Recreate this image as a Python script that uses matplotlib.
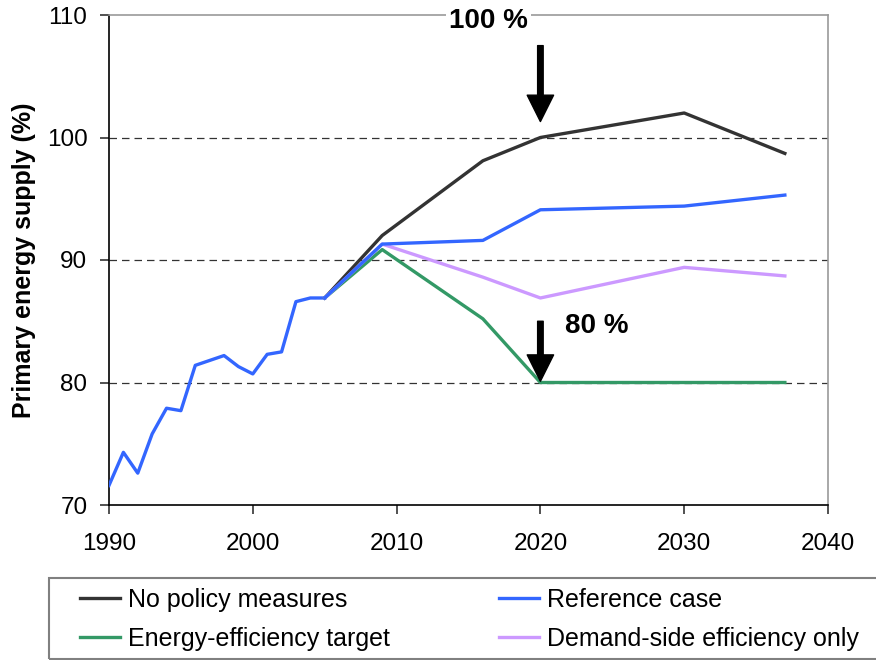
import matplotlib.pyplot as plt
from matplotlib.patches import Rectangle

plt.rcParams['font.family'] = ['Liberation Sans', 'DejaVu Sans']

# historical data (all scenarios start from it)
hist_years = [1990, 1991, 1992, 1993, 1994, 1995, 1996, 1997, 1998, 1999,
              2000, 2001, 2002, 2003, 2004, 2005]
hist_values = [71.6, 74.3, 72.6, 75.8, 77.9, 77.7, 81.4, 81.8, 82.2, 81.3,
               80.7, 82.3, 82.5, 86.6, 86.9, 86.9]

# scenario years
scen_years = [2005, 2009, 2016, 2020, 2030, 2037]
no_policy = [86.9, 92.0, 98.1, 100.0, 102.0, 98.7]
reference = [86.9, 91.3, 91.6, 94.1, 94.4, 95.3]
ee_target = [86.9, 90.85, 85.2, 80.0, 80.0, 80.0]
demand_side = [86.9, 91.3, 88.6, 86.9, 89.4, 88.7]

labels = ['No policy measures', 'Reference case',
          'Energy-efficiency target', 'Demand-side efficiency only']
colors = ['#333333', '#3366ff', '#339966', '#cc99ff']

fig = plt.figure(figsize=(8.76, 6.6), dpi=100)
ax = fig.add_axes([109 / 876, 1 - 505 / 660, 719 / 876, 490 / 660])

lw = 2.4
ax.plot(hist_years, hist_values, color=colors[1], lw=lw, zorder=3)
h_np, = ax.plot(scen_years, no_policy, color=colors[0], lw=lw, zorder=3)
h_ee, = ax.plot(scen_years, ee_target, color=colors[2], lw=lw, zorder=3)
h_ds, = ax.plot(scen_years, demand_side, color=colors[3], lw=lw, zorder=4)
h_ref, = ax.plot(scen_years, reference, color=colors[1], lw=lw, zorder=5)

ax.set_xlim(1990, 2040)
ax.set_ylim(70, 110)
ax.set_xticks([1990, 2000, 2010, 2020, 2030, 2040])
ax.set_yticks([70, 80, 90, 100, 110])

# dashed gridlines
for v in [80, 90, 100]:
    ax.axhline(v, color='#333333', lw=0.9, ls=(0, (6, 4)), zorder=1)

ax.spines['left'].set_color('black')
ax.spines['bottom'].set_color('black')
ax.spines['top'].set_color('#999999')
ax.spines['right'].set_color('#999999')
for s in ax.spines.values():
    s.set_linewidth(1.2)

ax.tick_params(axis='both', labelsize=17.5, direction='out', length=6.5,
               width=1.2, color='#333333')
ax.tick_params(axis='x', pad=14)
ax.tick_params(axis='y', pad=9)

ax.set_ylabel('Primary energy supply (%)', fontsize=18, fontweight='bold',
              labelpad=8)

# annotations
ax.annotate('', xy=(2020, 101.3), xytext=(2020, 107.5),
            arrowprops=dict(facecolor='black', edgecolor='black', width=4,
                            headwidth=19, headlength=19, shrink=0))
ax.text(2016.4, 109.5, '100 %', fontsize=20, fontweight='bold',
        ha='center', va='center', zorder=10, clip_on=False,
        bbox=dict(facecolor='white', edgecolor='none', pad=2))
ax.annotate('', xy=(2020, 80.1), xytext=(2020, 85.0),
            arrowprops=dict(facecolor='black', edgecolor='black', width=4,
                            headwidth=19, headlength=19, shrink=0))
ax.text(2023.9, 84.6, '80 %', fontsize=20, fontweight='bold',
        ha='center', va='center')

# legend
fig.legend([h_np, h_ee, h_ref, h_ds],
           [labels[0], labels[2], labels[1], labels[3]],
           ncol=2, loc='upper left', bbox_to_anchor=(80 / 876, 1 - 588 / 660),
           frameon=False, fontsize=18, handlelength=1.6, handletextpad=0.3,
           columnspacing=4.4, labelspacing=0.6, borderpad=0,
           borderaxespad=0)
fig.patches.append(Rectangle((49 / 876, 1 - 659 / 660), 830 / 876, 81 / 660,
                             transform=fig.transFigure, fill=False,
                             edgecolor='#808080', lw=1.5))

fig.savefig('out.png', dpi=100)
